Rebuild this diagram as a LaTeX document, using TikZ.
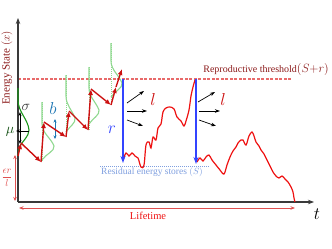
\documentclass[tikz,border=0pt]{standalone}
\usepackage{fontspec}
\setmainfont{Liberation Serif}
\usetikzlibrary{arrows.meta}
\definecolor{axisgray}{HTML}{3A3A3A}
\definecolor{zred}{HTML}{CC1111}
\definecolor{wred}{HTML}{EE1111}
\definecolor{maroon}{HTML}{8B1A1A}
\definecolor{lgreen}{HTML}{8FD88F}
\definecolor{dgreen}{HTML}{1A961A}
\definecolor{rblue}{HTML}{3344FF}
\definecolor{lblue}{HTML}{7F9FDF}
\definecolor{bblue}{HTML}{1F77B4}
\definecolor{lred}{HTML}{E05050}
\definecolor{pinkdash}{HTML}{E86A6A}
\tikzset{
  axisline/.style={draw=axisgray, line width=1.1pt, -{Stealth[length=6pt,width=4.5pt]}},
  zig/.style={draw=zred, line width=1.4pt, -{Latex[length=6pt,width=5pt]}},
  drop/.style={draw=rblue, line width=1.6pt, -{Stealth[length=7pt,width=5pt]}},
  fan/.style={draw=black, line width=0.7pt, -{Stealth[length=5pt,width=3.5pt]}},
  dens/.style={draw=lgreen, line width=1.1pt},
  densdot/.style={draw=lgreen, line width=0.6pt, dash pattern=on 1pt off 1pt},
  traj/.style={draw=wred, line width=1.2pt},
  small/.style={draw=black, line width=0.6pt},
  thrseg/.style={fill=pinkdash, draw=none},
}
\begin{document}
\begin{tikzpicture}[x=1pt,y=-1pt]
\useasboundingbox (0,0) rectangle (332,249);
% threshold line as short dashes
\foreach \k in {0,...,60}{
  \fill[thrseg] (18+4.5*\k,78.4) rectangle (21+4.5*\k,79.6);
}
\draw[draw=lblue, line width=0.9pt, dash pattern=on 1.2pt off 0.8pt] (100,166) -- (209,166);
\node[anchor=east, text=maroon, font=\fontsize{10}{12}\selectfont, inner sep=0pt] (thrlab) at (329,69) {Reproductive threshold{\fontsize{13}{15}\selectfont$(S{+}r)$}};
\node[text=lblue, font=\fontsize{9.5}{11}\selectfont, inner sep=0pt] (reslab) at (152,172) {Residual energy stores $(S)$};
% green densities
\foreach \xg/\yt/\yp/\w/\yr in {42/102/146/12/162, 66/75/118/9/137, 89/67/110/10/130, 111/43/83/11/105}{
  \draw[densdot] (\xg,\yt) -- (\xg,\yr);
  \draw[dens] (\xg,\yt) -- (\xg,\yp-22) .. controls (\xg,\yp-13) and (\xg+\w-3,\yp-8) .. (\xg+\w,\yp) .. controls (\xg+\w+1,\yp+5) and (\xg+4,\yp+8) .. (\xg,\yp+14);
}
% axes
\coordinate (O) at (18,202);
\coordinate (ytop) at (18,18);
\coordinate (xend) at (314,202);
\draw[axisline] (O) -- (ytop);
\draw[axisline] (O) -- (xend);
\node[font=\fontsize{18}{20}\selectfont, inner sep=0pt] (tlab) at (317,214) {$t$};
\node[rotate=90, text=maroon, font=\fontsize{11}{13}\selectfont, inner sep=0pt] (ylab) at (7,68) {Energy State $(x)$};
% dark green density on axis
\draw[dgreen, line width=1.1pt] (18,88) -- (18,100) .. controls (18,112) and (28,119) .. (29,130) .. controls (29,137) and (22,141) .. (19,148) -- (18,156);
\draw[small, {Stealth[length=4pt,width=3pt]}-{Stealth[length=4pt,width=3pt]}] (20,112) -- (20,144);
\draw[small, -{Stealth[length=4pt,width=3pt]}] (29,131) -- (16,131);
\node[font=\fontsize{14}{16}\selectfont, text=axisgray, inner sep=0pt] (sig) at (26,107) {$\sigma$};
\node[font=\fontsize{14}{16}\selectfont, text=dgreen!50!black, inner sep=0pt] (mu) at (10,132) {$\mu$};
% b arrow
\draw[bblue, line width=0.9pt, {Stealth[length=3.5pt,width=3pt]}-{Stealth[length=3.5pt,width=3pt]}] (55,119) -- (55,139);
\node[text=bblue, font=\fontsize{17}{19}\selectfont, inner sep=0pt] (blab) at (53,108) {$b$};
% red zigzag
\coordinate (z0) at (18,156);
\coordinate (z1) at (21,143);
\coordinate (z2) at (41,162);
\coordinate (z3) at (44,122);
\coordinate (z4) at (66,137);
\coordinate (z5) at (69,111);
\coordinate (z6) at (88,130);
\coordinate (z7) at (91,89);
\coordinate (z8) at (111,105);
\coordinate (z9) at (116,87);
\coordinate (z10) at (122,69);
\draw[zig] (z0) -- (z1);
\draw[zig] (z1) -- (z2);
\draw[zig] (z2) -- (z3);
\draw[zig] (z3) -- (z4);
\draw[zig] (z4) -- (z5);
\draw[zig] (z5) -- (z6);
\draw[zig] (z6) -- (z7);
\draw[zig] (z7) -- (z8);
\draw[zig] (z8) -- (z9);
\draw[zig] (z9) -- (z10);
% wiggly trajectory
\draw[traj] plot[smooth, tension=0.55] coordinates {(123,160) (126,153) (129,156) (132,153) (135,156) (138,158) (141,167) (144,165) (146,145) (149,142) (151,148) (153,137) (156,140) (158,128) (161,124) (163,112) (166,108) (170,107) (174,109) (177,117) (181,121) (184,126) (186,121) (189,110) (191,96) (193,87) (195,80)};
\draw[traj] plot[smooth, tension=0.55] coordinates {(197,162) (200,158) (203,161) (206,157) (209,155) (212,160) (216,165) (220,170) (224,174) (227,165) (230,157) (233,151) (236,147) (238,143) (241,140) (243,140) (246,145) (249,136) (252,132) (254,136) (256,142) (259,146) (261,150) (264,154) (266,158) (270,166) (273,172) (276,176) (279,178) (282,176) (285,179) (288,182) (291,187) (293,192) (294,198) (295,202)};
% blue drops
\coordinate (d1t) at (123,79);
\coordinate (d1b) at (123,163);
\coordinate (d2t) at (196,79);
\coordinate (d2b) at (196,164);
\draw[drop] (d1t) -- (d1b);
\draw[drop] (d2t) -- (d2b);
\node[text=rblue, font=\fontsize{17}{19}\selectfont, inner sep=0pt] (rlab) at (112,130) {$r$};
% fans
\draw[fan] (127,103) -- (144,91);
\draw[fan] (127,111) -- (147,111);
\draw[fan] (127,120) -- (143,126);
\draw[fan] (198,102) -- (215,92);
\draw[fan] (199,111) -- (220,111);
\draw[fan] (199,120) -- (216,126);
\node[text=zred, font=\fontsize{17}{19}\selectfont, inner sep=0pt] (l1) at (153,99) {$l$};
\node[text=zred, font=\fontsize{17}{19}\selectfont, inner sep=0pt] (l2) at (223,99) {$l$};
% epsilon r / l
\draw[lred, line width=0.8pt, {Stealth[length=4pt,width=3.5pt]}-{Stealth[length=4pt,width=3.5pt]}] (15,155) -- (15,201);
\node[text=lred, font=\fontsize{10}{12}\selectfont, inner sep=0pt] (eps) at (7,178) {$\displaystyle\frac{\epsilon r}{l}$};
% lifetime
\draw[lred, line width=0.8pt, {Stealth[length=4.5pt,width=3.5pt]}-{Stealth[length=4.5pt,width=3.5pt]}] (19,208) -- (295,208);
\node[text=wred, font=\fontsize{10.5}{12}\selectfont, inner sep=0pt] (life) at (148,216) {Lifetime};
\end{tikzpicture}
\end{document}
